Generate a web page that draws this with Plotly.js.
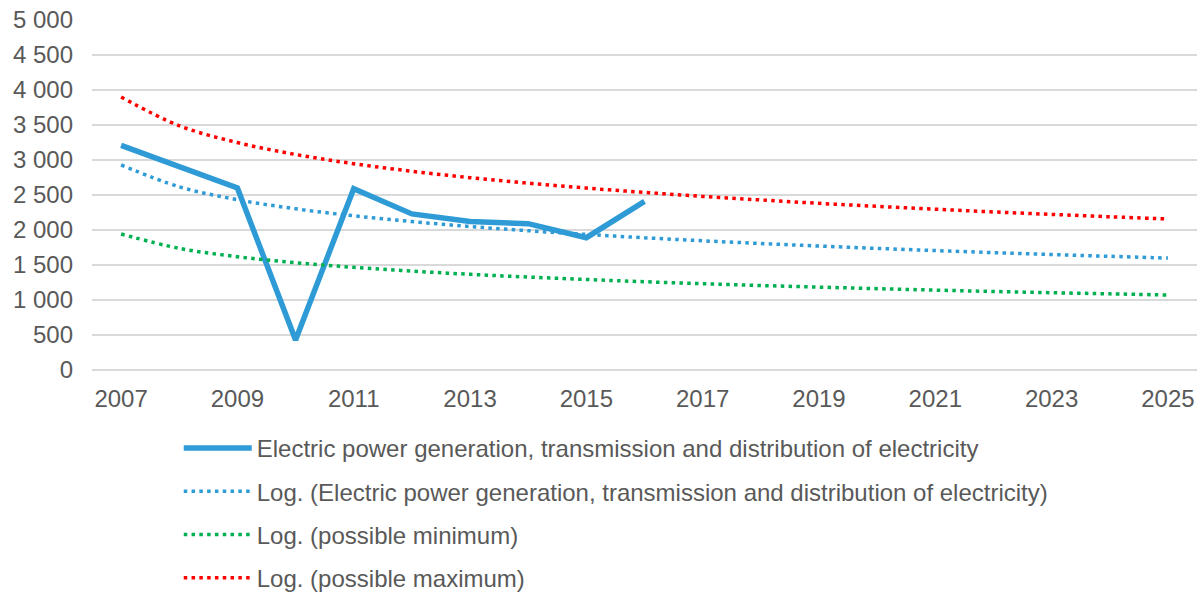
<!DOCTYPE html>
<html>
<head>
<meta charset="utf-8">
<script src="https://cdn.plot.ly/plotly-3.0.1.min.js"></script>
<style>html,body{margin:0;padding:0;background:#fff}#chart{width:1201px;height:594px}</style>
</head>
<body>
<div id="chart"></div>
<script>
// Data
const years = [2007,2008,2009,2010,2011,2012,2013,2014,2015,2016,2017,2018,2019,2020,2021,2022,2023,2024,2025];
const actualYears = [2007,2008,2009,2010,2011,2012,2013,2014,2015,2016];
const actualValues = [3210,2900,2600,430,2590,2230,2120,2090,1890,2410];
const trendActual = [2930,2617,2433,2303,2203,2120,2050,1990,1937,1889,1846,1807,1771,1737,1706,1677,1650,1624,1599];
const trendMin = [1943,1738,1618,1533,1467,1413,1367,1328,1293,1261,1233,1207,1184,1162,1141,1122,1104,1088,1071];
const trendMax = [3900,3490,3249,3079,2947,2839,2748,2669,2599,2537,2480,2429,2381,2338,2297,2258,2223,2189,2157];
const names = [
  'Electric power generation, transmission and distribution of electricity',
  'Log. (Electric power generation, transmission and distribution of electricity)',
  'Log. (possible minimum)',
  'Log. (possible maximum)'
];
const xTicks = [2007,2009,2011,2013,2015,2017,2019,2021,2023,2025];

const dotDash = '3.5px,4.3px';
const traces = [
  {x: actualYears, y: actualValues, name: names[0], mode: 'lines', legendgroup: 'a',
   line: {color: '#2E9BD6', width: 5.5}},
  {x: years, y: trendActual, name: names[1], mode: 'lines', legendgroup: 'b',
   line: {color: '#2E9BD6', width: 3.5, dash: dotDash, shape: 'spline'}},
  {x: years, y: trendMin, name: names[2], mode: 'lines', legendgroup: 'c',
   line: {color: '#00B050', width: 3.5, dash: dotDash, shape: 'spline'}},
  {x: years, y: trendMax, name: names[3], mode: 'lines', legendgroup: 'd',
   line: {color: '#FF0000', width: 3.5, dash: dotDash, shape: 'spline'}}
];

const font = {family: 'Liberation Sans, Arial, sans-serif', size: 24, color: '#595959'};
const layout = {
  width: 1201, height: 594,
  margin: {l: 92, r: 4, t: 20, b: 224},
  paper_bgcolor: '#fff', plot_bgcolor: '#fff',
  separators: ', ',
  font: font,
  showlegend: true,
  xaxis: {
    range: [2006.5, 2025.5], tickvals: xTicks, ticktext: xTicks.map(String),
    showgrid: false, zeroline: false, showline: false, ticks: '',
    tickfont: font, ticklabelstandoff: 12, fixedrange: true
  },
  yaxis: {
    range: [0, 5000], dtick: 500, tickformat: ',d',
    showgrid: true, gridcolor: '#D9D9D9', gridwidth: 1.5,
    zeroline: true, zerolinecolor: '#D9D9D9', zerolinewidth: 1.5,
    showline: false, ticks: '', tickfont: font, ticklabelstandoff: 18, fixedrange: true
  },
  legend: {
    xref: 'paper', yref: 'container',
    x: 0.0785, y: 1 - 426/594, xanchor: 'left', yanchor: 'top',
    orientation: 'v', traceorder: 'grouped', tracegroupgap: 9,
    font: font, itemwidth: 68, bgcolor: 'rgba(0,0,0,0)'
  }
};
Plotly.newPlot('chart', traces, layout, {displayModeBar: false, staticPlot: true});
</script>
</body>
</html>
